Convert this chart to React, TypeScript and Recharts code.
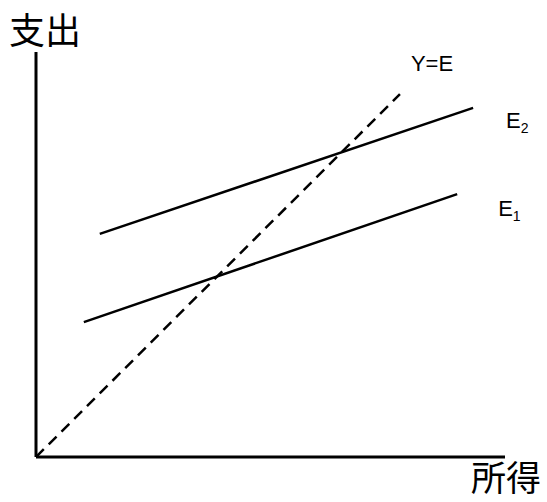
import React from 'react';
import { LineChart, Line, XAxis, YAxis, ReferenceLine } from 'recharts';

// 所得 (x) vs 支出 (y), both on an arbitrary 0-100 scale
const yEqualsE = [
  { x: 0, y: 0 },
  { x: 77.6, y: 89.6 },
];

const e1 = [
  { x: 10.2, y: 33.3 },
  { x: 89.8, y: 64.9 },
];

const e2 = [
  { x: 13.6, y: 55.1 },
  { x: 93.2, y: 86.2 },
];

const LATIN = '"Liberation Sans", Arial, sans-serif';
const CJK = '"Noto Sans CJK JP", "Noto Sans CJK SC", sans-serif';

function endLabel(text: string, sub: string | null, dx: number, dy: number, last: number) {
  return (props: any) => {
    if (props.index !== last) return null;
    return (
      <text x={props.x + dx} y={props.y + dy} fontFamily={LATIN} fontSize={22} fill="#000">
        {text}
        {sub && (
          <tspan fontSize={14} dy={5}>
            {sub}
          </tspan>
        )}
      </text>
    );
  };
}

export default function App() {
  return (
    <div style={{ position: 'absolute', left: 0, top: 0, width: 547, height: 502, background: '#fff' }}>
      <LineChart width={547} height={502} margin={{ top: 52, left: 36, right: 42, bottom: 45 }}>
        <XAxis type="number" dataKey="x" domain={[0, 100]} allowDataOverflow hide />
        <YAxis type="number" dataKey="y" domain={[0, 100]} allowDataOverflow hide />
        {/* axes drawn as reference lines through the origin */}
        <ReferenceLine
          y={0}
          stroke="#000"
          strokeWidth={3}
          label={{
            content: (p: any) => (
              <text x={p.viewBox.x + p.viewBox.width - 34} y={491} fontFamily={CJK} fontSize={35} fill="#000">
                所得
              </text>
            ),
          }}
        />
        <ReferenceLine
          x={0}
          stroke="#000"
          strokeWidth={3}
          label={{
            content: () => (
              <text x={9} y={44} fontFamily={CJK} fontSize={36} fill="#000">
                支出
              </text>
            ),
          }}
        />
        <Line
          data={yEqualsE}
          dataKey="y"
          type="linear"
          stroke="#000"
          strokeWidth={2.5}
          strokeDasharray="11 7"
          dot={false}
          isAnimationActive={false}
          label={endLabel('Y=E', null, 11, -23, yEqualsE.length - 1)}
        />
        <Line
          data={e1}
          dataKey="y"
          type="linear"
          stroke="#000"
          strokeWidth={2.5}
          dot={false}
          isAnimationActive={false}
          label={endLabel('E', '1', 41, 22, e1.length - 1)}
        />
        <Line
          data={e2}
          dataKey="y"
          type="linear"
          stroke="#000"
          strokeWidth={2.5}
          dot={false}
          isAnimationActive={false}
          label={endLabel('E', '2', 33, 20, e2.length - 1)}
        />
      </LineChart>
    </div>
  );
}
